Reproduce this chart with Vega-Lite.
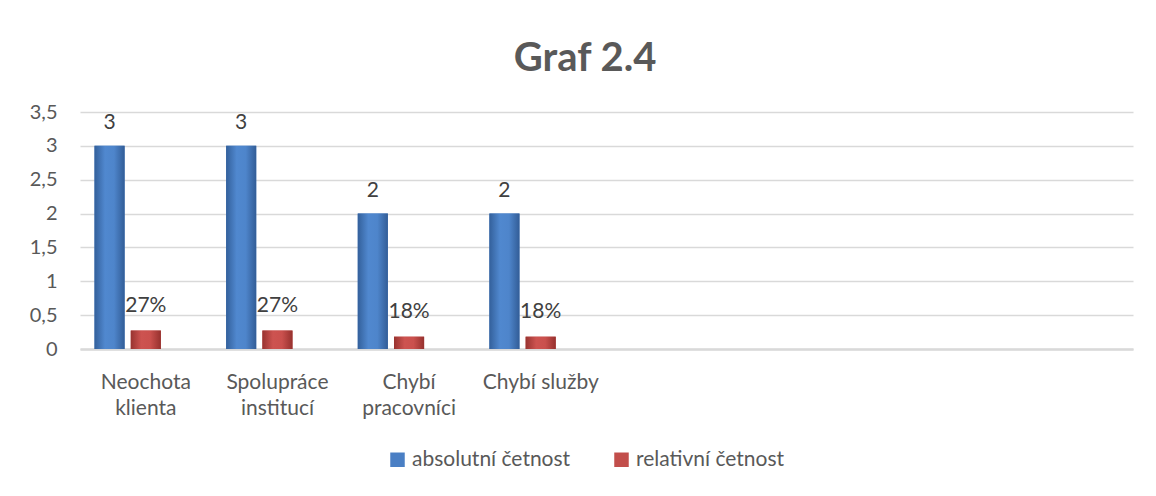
{
  "$schema": "https://vega.github.io/schema/vega-lite/v6.json",
  "width": 1053,
  "height": 237,
  "autosize": {"type": "none"},
  "padding": {"left": 80, "top": 112, "right": 23, "bottom": 147},
  "background": "white",
  "config": {
    "view": {"stroke": null},
    "font": "Lato"
  },
  "title": {
    "text": "Graf 2.4",
    "font": "Lato",
    "fontSize": 40,
    "fontWeight": "bold",
    "color": "#595959",
    "anchor": "middle",
    "frame": "bounds",
    "baseline": "alphabetic",
    "offset": -9,
    "dx": 4
  },
  "data": {
    "values": [
      {"kategorie": "Neochota klienta", "rada": "absolutní četnost", "hodnota": 3},
      {"kategorie": "Spolupráce institucí", "rada": "absolutní četnost", "hodnota": 3},
      {"kategorie": "Chybí pracovníci", "rada": "absolutní četnost", "hodnota": 2},
      {"kategorie": "Chybí služby", "rada": "absolutní četnost", "hodnota": 2},
      {"kategorie": "Neochota klienta", "rada": "relativní četnost", "hodnota": 0.2727},
      {"kategorie": "Spolupráce institucí", "rada": "relativní četnost", "hodnota": 0.2727},
      {"kategorie": "Chybí pracovníci", "rada": "relativní četnost", "hodnota": 0.1818},
      {"kategorie": "Chybí služby", "rada": "relativní četnost", "hodnota": 0.1818}
    ]
  },
  "encoding": {
    "x": {
      "field": "kategorie",
      "type": "nominal",
      "sort": null,
      "scale": {
        "domain": ["Neochota klienta", "Spolupráce institucí", "Chybí pracovníci", "Chybí služby", " ", "  ", "   ", "    "],
        "paddingInner": 0,
        "paddingOuter": 0
      },
      "axis": {
        "title": null,
        "labelAngle": 0,
        "ticks": false,
        "grid": false,
        "domain": true,
        "domainColor": "#d9d9d9",
        "domainWidth": 2.5,
        "labelFont": "Lato",
        "labelFontSize": 21,
        "labelColor": "#595959",
        "labelLineHeight": 26,
        "labelPadding": 22,
        "labelLimit": 300,
        "labelExpr": "indexof(['Neochota klienta','Spolupráce institucí','Chybí pracovníci'], datum.value) >= 0 ? split(datum.value, ' ') : datum.value"
      }
    },
    "xOffset": {
      "field": "rada",
      "type": "nominal",
      "scale": {
        "domain": ["absolutní četnost", "relativní četnost", "_"],
        "paddingInner": 0.17,
        "paddingOuter": 0.4
      }
    },
    "y": {
      "field": "hodnota",
      "type": "quantitative",
      "scale": {"domain": [0, 3.5], "nice": false},
      "axis": {
        "title": null,
        "domain": false,
        "ticks": false,
        "grid": true,
        "gridColor": "#d9d9d9",
        "gridWidth": 1.5,
        "values": [0, 0.5, 1, 1.5, 2, 2.5, 3, 3.5],
        "labelExpr": "replace(format(datum.value, '.1~f'), '.', ',')",
        "labelFont": "Lato",
        "labelFontSize": 20,
        "labelColor": "#595959",
        "labelPadding": 23
      }
    }
  },
  "layer": [
    {
      "mark": {"type": "bar"},
      "encoding": {
        "color": {
          "field": "rada",
          "type": "nominal",
          "scale": {
            "domain": ["absolutní četnost", "relativní četnost"],
            "range": ["#4a7fc4", "#c24e4b"]
          },
          "legend": {
            "title": null,
            "orient": "none",
            "legendX": 307,
            "legendY": 337,
            "direction": "horizontal",
            "symbolType": "square",
            "symbolSize": 210,
            "symbolStrokeWidth": 0,
            "symbolOpacity": 1,
            "labelFont": "Lato",
            "labelFontSize": 21,
            "labelColor": "#595959",
            "labelOffset": 4,
            "columnPadding": 40,
            "padding": 0
          }
        }
      }
    },
    {
      "transform": [{"filter": "datum.rada == 'absolutní četnost'"}],
      "mark": {
        "type": "bar",
        "color": {"gradient": "linear", "x1": 0, "y1": 0, "x2": 1, "y2": 0, "stops": [{"offset": 0, "color": "#33609b"}, {"offset": 0.35, "color": "#5088cf"}, {"offset": 0.65, "color": "#4e85cb"}, {"offset": 1, "color": "#325d97"}]}
      },
      "encoding": {}
    },
    {
      "transform": [{"filter": "datum.rada == 'relativní četnost'"}],
      "mark": {
        "type": "bar",
        "color": {"gradient": "linear", "x1": 0, "y1": 0, "x2": 1, "y2": 0, "stops": [{"offset": 0, "color": "#983330"}, {"offset": 0.35, "color": "#cd5350"}, {"offset": 0.65, "color": "#ca504d"}, {"offset": 1, "color": "#96312e"}]}
      },
      "encoding": {}
    },
    {
      "transform": [{"filter": "datum.rada == 'absolutní četnost'"}],
      "mark": {"type": "text", "baseline": "alphabetic", "dy": -17, "font": "Lato", "fontSize": 21, "color": "#404040"},
      "encoding": {
        "text": {"field": "hodnota", "type": "quantitative", "format": "d"}
      }
    },
    {
      "transform": [{"filter": "datum.rada == 'relativní četnost'"}],
      "mark": {"type": "text", "baseline": "alphabetic", "dy": -19, "font": "Lato", "fontSize": 21, "color": "#404040"},
      "encoding": {
        "text": {"field": "hodnota", "type": "quantitative", "format": ".0%"}
      }
    }
  ]
}
